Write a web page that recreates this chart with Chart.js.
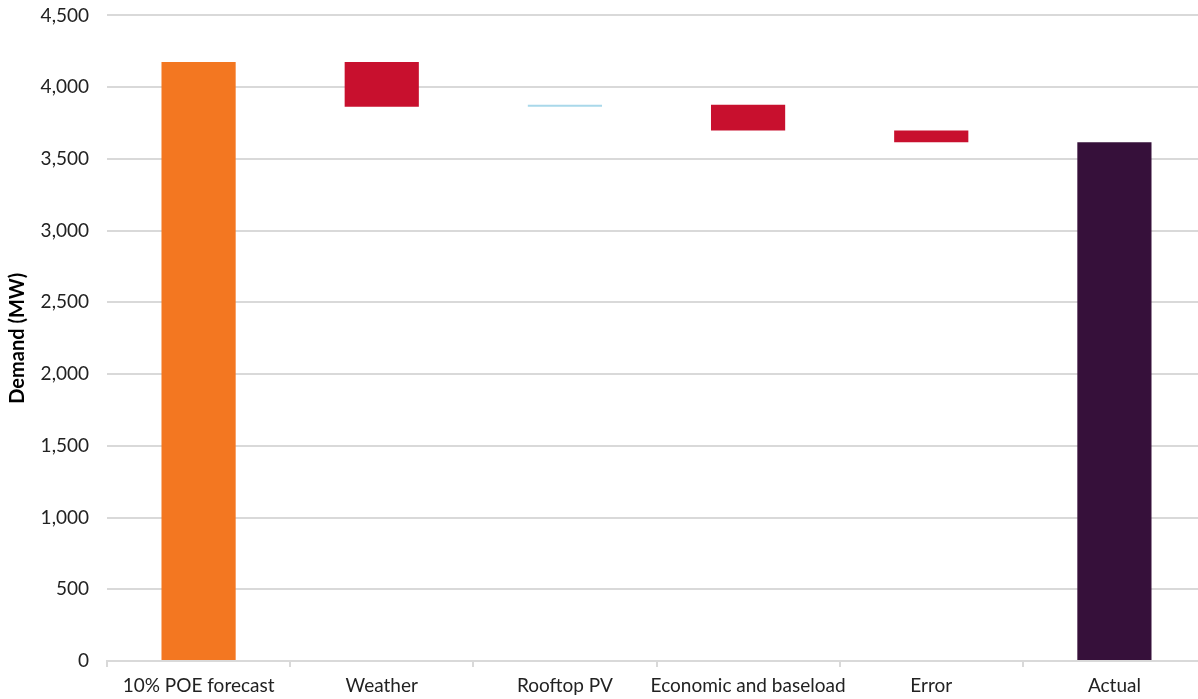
<!DOCTYPE html>
<html lang="en">
<head>
    <meta charset="UTF-8">
    <title>Demand waterfall</title>
    <script src="https://cdn.jsdelivr.net/npm/chart.js"></script>
    <style>
        html, body { margin: 0; padding: 0; overflow: hidden; background: #fff; }
        #wrap { position: relative; width: 1206px; height: 721px; margin-top: -14px; }
    </style>
</head>
<body>
    <div id="wrap">
        <canvas id="chart"></canvas>
    </div>

    <script>
        // Categories and floating bar ranges (MW)
        const categories = ['10% POE forecast', 'Weather', 'Rooftop PV', 'Economic and baseload', 'Error', 'Actual'];
        const barBottoms = [0, 3864, 3864, 3698, 3615, 0];
        const barTops = [4175, 4175, 3878, 3878, 3698, 3615];
        const barColors = ['#F37721', '#C8102E', '#A9D8EA', '#C8102E', '#C8102E', '#36103A'];
        const yTicks = [0, 500, 1000, 1500, 2000, 2500, 3000, 3500, 4000, 4500];

        const ranges = categories.map((c, i) => [barBottoms[i], barTops[i]]);

        new Chart(document.getElementById('chart'), {
            type: 'bar',
            data: {
                labels: categories,
                datasets: [{
                    data: ranges,
                    backgroundColor: barColors,
                    borderWidth: 0,
                    barPercentage: 0.405,
                    categoryPercentage: 1
                }]
            },
            options: {
                responsive: true,
                maintainAspectRatio: false,
                animation: false,
                layout: { padding: { top: 0, right: 0, bottom: 2, left: 6 } },
                plugins: {
                    legend: { display: false },
                    tooltip: { enabled: false }
                },
                scales: {
                    x: {
                        afterFit: axis => { axis.height = 44; },
                        grid: {
                            display: true,
                            drawOnChartArea: false,
                            offset: true,
                            color: '#d9d9d9',
                            lineWidth: 2,
                            tickLength: 6
                        },
                        border: { color: '#d9d9d9', width: 2 },
                        ticks: {
                            color: '#222',
                            font: { family: 'Lato', size: 19 },
                            maxRotation: 0,
                            autoSkip: false,
                            padding: 7
                        }
                    },
                    y: {
                        min: 0,
                        max: 4500,
                        afterFit: axis => { axis.width = 101; },
                        afterBuildTicks: axis => { axis.ticks = yTicks.map(v => ({ value: v })); },
                        grid: {
                            color: '#d9d9d9',
                            lineWidth: 2,
                            drawTicks: false
                        },
                        border: { display: false },
                        ticks: {
                            color: '#222',
                            font: { family: 'Lato', size: 19 },
                            padding: 18,
                            callback: v => v.toLocaleString('en-US')
                        },
                        title: {
                            display: true,
                            text: 'Demand (MW)',
                            color: '#000',
                            font: { family: 'Lato', size: 20, weight: 'bold' },
                            padding: { top: 0, bottom: 4 }
                        }
                    }
                }
            }
        });
    </script>
</body>
</html>
